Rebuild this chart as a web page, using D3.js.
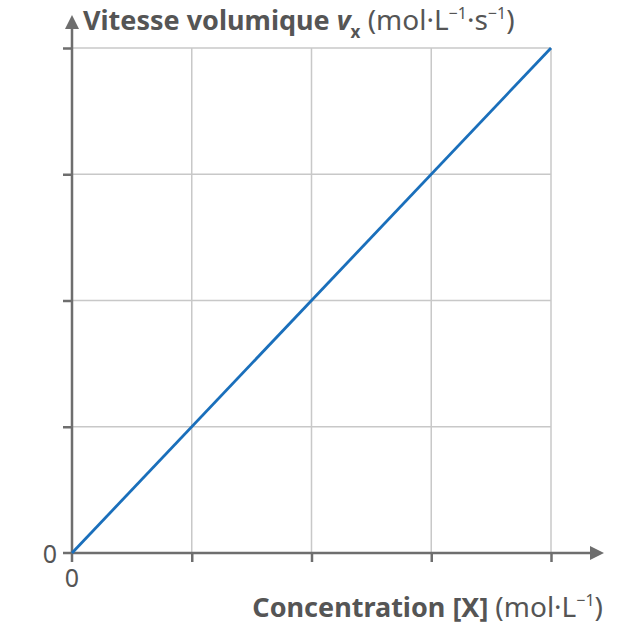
<!DOCTYPE html>
<html lang="fr">
<head>
    <meta charset="UTF-8">
    <title>Vitesse volumique</title>
    <script src="https://cdn.jsdelivr.net/npm/d3@7"></script>
    <style>
        body{margin: 0; background: #fff}
        svg text{font-family: "Noto Sans", "Open Sans", sans-serif; fill: #555}
        .grid line{stroke: #c8c8c8; stroke-width: 1.5}
        .axis line, .axis path{stroke: #6e6e6e; stroke-width: 2.5}
        .curve{fill: none; stroke: #1a6fbb; stroke-width: 2.8}
    </style>
</head>
<body>
    <svg></svg>
    <script>
        // grid / tick positions
        var xTicks = [0, 1, 2, 3, 4]
        var yTicks = [0, 1, 2, 3, 4]
        // line points
        var concentration = [0, 4]
        var vitesse = [0, 4]

        var width = 626, height = 627
        var origin = {x: 72, y: 553}
        var xEnd = 551, yEnd = 48

        var svg = d3.select('svg')
            .attr('width', width)
            .attr('height', height)

        var xScale = d3.scaleLinear().domain([0, 4]).range([origin.x, xEnd])
        var yScale = d3.scaleLinear().domain([0, 4]).range([origin.y, yEnd])

        // grid
        var grid = svg.append('g').attr('class', 'grid')
        grid.selectAll('.vx').data(xTicks.slice(1)).enter().append('line')
            .attr('x1', d => xScale(d)).attr('x2', d => xScale(d))
            .attr('y1', yScale(0)).attr('y2', yScale(4))
        grid.selectAll('.hy').data(yTicks.slice(1)).enter().append('line')
            .attr('x1', xScale(0)).attr('x2', xScale(4))
            .attr('y1', d => yScale(d)).attr('y2', d => yScale(d))

        // axes
        var xAxis = d3.axisBottom(xScale).tickValues(xTicks.slice(1)).tickSize(9).tickFormat('')
        var yAxis = d3.axisLeft(yScale).tickValues(yTicks.slice(1)).tickSize(9).tickFormat('')
        svg.append('g').attr('class', 'axis')
            .attr('transform', `translate(0, ${origin.y})`)
            .call(xAxis)
            .call(g => g.select('.domain').remove())
        svg.append('g').attr('class', 'axis')
            .attr('transform', `translate(${origin.x}, 0)`)
            .call(yAxis)
            .call(g => g.select('.domain').remove())

        var axisG = svg.append('g').attr('class', 'axis')
        axisG.append('line')
            .attr('x1', origin.x - 9).attr('x2', 592)
            .attr('y1', origin.y).attr('y2', origin.y)
        axisG.append('line')
            .attr('x1', origin.x).attr('x2', origin.x)
            .attr('y1', origin.y + 9).attr('y2', 28)
        // arrows
        svg.append('path')
            .attr('d', `M604,${origin.y} L590,${origin.y - 7} L590,${origin.y + 7} Z`)
            .attr('fill', '#6e6e6e')
        svg.append('path')
            .attr('d', `M${origin.x},15 L${origin.x - 7},29 L${origin.x + 7},29 Z`)
            .attr('fill', '#6e6e6e')

        // line
        var line = d3.line()
            .x(d => xScale(d[0]))
            .y(d => yScale(d[1]))
        svg.append('path')
            .datum(concentration.map((c, i) => [c, vitesse[i]]))
            .attr('class', 'curve')
            .attr('d', line)

        // zero labels
        svg.append('text')
            .attr('x', 57).attr('y', 563)
            .attr('text-anchor', 'end')
            .attr('font-size', 25)
            .text('0')
        svg.append('text')
            .attr('x', origin.x).attr('y', 587)
            .attr('text-anchor', 'middle')
            .attr('font-size', 25)
            .text('0')

        // y title
        var yt = svg.append('text')
            .attr('x', 83).attr('y', 30)
            .attr('font-size', 27)
        yt.append('tspan').attr('font-weight', 'bold').text('Vitesse volumique ')
        yt.append('tspan').attr('font-weight', 'bold').attr('font-style', 'italic').text('v')
        yt.append('tspan').attr('font-weight', 'bold').attr('font-size', 17).attr('dy', 8).text('x')
        yt.append('tspan').attr('dy', -8).attr('font-size', 28).text(' (mol·L')
        yt.append('tspan').attr('font-size', 16).attr('dy', -11).text('−1')
        yt.append('tspan').attr('dy', 11).attr('font-size', 28).text('·s')
        yt.append('tspan').attr('font-size', 16).attr('dy', -11).text('−1')
        yt.append('tspan').attr('dy', 11).attr('font-size', 28).text(')')

        // x title
        var xt = svg.append('text')
            .attr('x', 603).attr('y', 617)
            .attr('text-anchor', 'end')
            .attr('font-size', 27)
        xt.append('tspan').attr('font-weight', 'bold').text('Concentration [X] ')
        xt.append('tspan').attr('font-size', 28).text('(mol·L')
        xt.append('tspan').attr('font-size', 16).attr('dy', -11).text('−1')
        xt.append('tspan').attr('dy', 11).attr('font-size', 28).text(')')
    </script>
</body>
</html>
